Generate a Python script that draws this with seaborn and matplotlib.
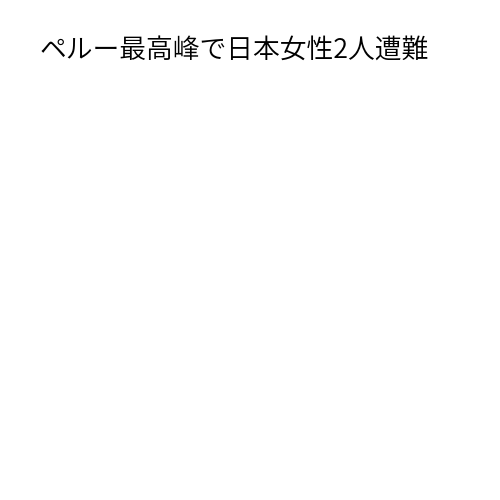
import matplotlib.pyplot as plt
import seaborn as sns

# The reference is an empty chart that only carries its title
title = "ペルー最高峰で日本女性2人遭難"

sns.set_theme(style="white")
plt.rcParams["font.family"] = ["Noto Sans CJK JP", "DejaVu Sans"]

fig = plt.figure(figsize=(5, 5), dpi=100)
ax = fig.add_axes([0, 0, 1, 1])
ax.set_axis_off()

fig.text(0.08, 0.899, title, fontsize=19.3, color="black",
         fontweight=350, ha="left", va="center")

fig.savefig("out.png", dpi=100, facecolor="white")
plt.close(fig)
